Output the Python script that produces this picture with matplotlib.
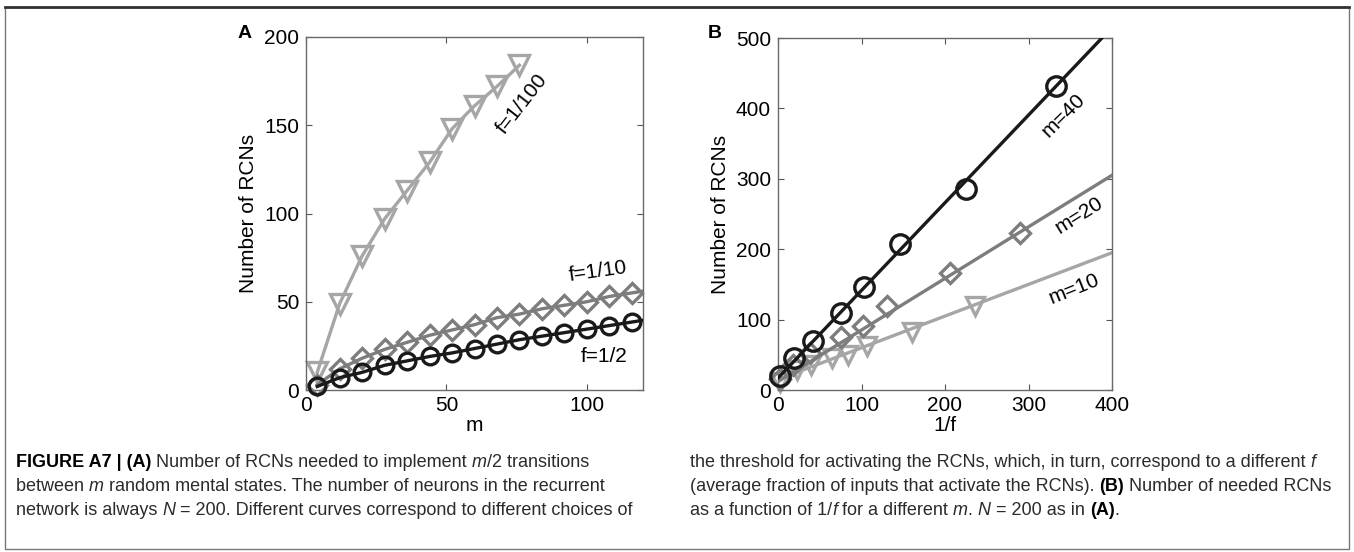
import matplotlib
matplotlib.use('Agg')
import matplotlib.pyplot as plt
from matplotlib.patches import Rectangle
from matplotlib.lines import Line2D

plt.rcParams['font.family'] = ['Liberation Sans', 'DejaVu Sans']

# ---- Panel A data: number of RCNs vs m ----
m_vals = [4, 12, 20, 28, 36, 44, 52, 60, 68, 76, 84, 92, 100, 108, 116]
rcn_f2 = [2, 7, 10, 14, 16.5, 19, 21, 23.5, 26, 28.5, 30.5, 32.5, 34.5, 36.5, 38.5]
rcn_f10 = [3, 12, 18, 23, 27, 31, 34, 37, 41, 43, 46, 48, 50, 53, 55]
m_vals_f100 = [4, 12, 20, 28, 36, 44, 52, 60, 68, 76]
rcn_f100 = [10, 49, 76, 97, 113, 129, 148, 161, 172, 184]
# fitted curve end values at the right edge (m = 120)
m_edge = 120
rcn_f2_edge = 39.5
rcn_f10_edge = 56

# ---- Panel B data: number of RCNs vs 1/f ----
invf_m40 = [2, 19, 42, 76, 103, 146, 225, 333]
rcn_m40 = [20, 45, 69, 110, 147, 207, 286, 432]
invf_m20 = [2, 18, 38, 75, 102, 130, 206, 290]
rcn_m20 = [15, 35, 52, 75, 91, 119, 166, 223]
invf_m10 = [2, 23, 40, 65, 84, 107, 161, 236]
rcn_m10 = [12, 28, 35, 45, 50, 63, 83, 120]
# linear fit lines (end points)
fit_x = [0, 400]
fit_m40 = [17, 515]
fit_m20 = [12, 305]
fit_m10 = [15, 195]

black = '#1a1a1a'
mid = '#7d7d7d'
light = '#a6a6a6'
lw = 2.4
mew = 2.4
fs = 15

fig = plt.figure(figsize=(13.54, 5.52), dpi=100)
W, H = 1354, 552


def style_axes(ax):
    ax.tick_params(direction='in', top=True, right=True, length=4,
                   width=0.8, color='#555555', labelsize=fs)
    ax.tick_params(axis='x', pad=4)
    ax.tick_params(axis='y', pad=5)
    for s in ax.spines.values():
        s.set_color('#6a6a6a')
        s.set_linewidth(1.0)


# Panel A
axA = fig.add_axes([306 / W, 1 - 390 / H, 337 / W, 353 / H])
axA.plot(m_vals_f100, rcn_f100, color=light, lw=lw, marker='v', ms=15,
         mfc='none', mec=light, mew=mew, clip_on=False, zorder=2)
axA.plot(m_vals + [m_edge], rcn_f10 + [rcn_f10_edge], color=mid, lw=lw, zorder=3)
axA.plot(m_vals, rcn_f10, ls='none', marker='D', ms=10, mfc='none', mec=mid,
         mew=mew, clip_on=False, zorder=3)
axA.plot(m_vals + [m_edge], rcn_f2 + [rcn_f2_edge], color=black, lw=lw, zorder=4)
axA.plot(m_vals, rcn_f2, ls='none', marker='o', ms=12, mfc='none', mec=black,
         mew=mew, clip_on=False, zorder=4)
axA.set_xlim(0, 120)
axA.set_ylim(0, 200)
axA.set_xticks([0, 50, 100])
axA.set_yticks([0, 50, 100, 150, 200])
axA.set_xlabel('m', fontsize=fs, labelpad=1)
axA.set_ylabel('Number of RCNs', fontsize=fs, labelpad=4)
style_axes(axA)
axA.text(77, 162, 'f=1/100', rotation=52, fontsize=fs, ha='center', va='center')
axA.text(104, 67, 'f=1/10', rotation=8, fontsize=fs, ha='center', va='center')
axA.text(106, 19, 'f=1/2', rotation=0, fontsize=fs, ha='center', va='center')

# Panel B
axB = fig.add_axes([778 / W, 1 - 390 / H, 334 / W, 352 / H])
axB.plot(fit_x, fit_m10, color=light, lw=lw, zorder=2)
axB.plot(invf_m10, rcn_m10, ls='none', marker='v', ms=13, mfc='none', mec=light,
         mew=mew, clip_on=False, zorder=2)
axB.plot(fit_x, fit_m20, color=mid, lw=lw, zorder=3)
axB.plot(invf_m20, rcn_m20, ls='none', marker='D', ms=10, mfc='none', mec=mid,
         mew=mew, clip_on=False, zorder=3)
axB.plot(fit_x, fit_m40, color=black, lw=lw, zorder=4)
axB.plot(invf_m40, rcn_m40, ls='none', marker='o', ms=14, mfc='none', mec=black,
         mew=mew, clip_on=False, zorder=4)
axB.set_xlim(0, 400)
axB.set_ylim(0, 500)
axB.set_xticks([0, 100, 200, 300, 400])
axB.set_yticks([0, 100, 200, 300, 400, 500])
axB.set_xlabel('1/f', fontsize=fs, labelpad=1)
axB.set_ylabel('Number of RCNs', fontsize=fs, labelpad=4)
style_axes(axB)
axB.text(342, 390, 'm=40', rotation=45, fontsize=fs, ha='center', va='center')
axB.text(360, 248, 'm=20', rotation=32, fontsize=fs, ha='center', va='center')
axB.text(354, 144, 'm=10', rotation=22, fontsize=fs, ha='center', va='center')

# panel letters
fig.text(245 / W, 1 - 33 / H, 'A', fontsize=14, fontweight='bold', ha='center', va='center')
fig.text(715 / W, 1 - 33 / H, 'B', fontsize=14, fontweight='bold', ha='center', va='center')

# outer frame
fig.add_artist(Rectangle((5 / W, 3 / H), 1344 / W, 542 / H, transform=fig.transFigure,
                         fill=False, edgecolor='#777777', lw=1.0))
fig.add_artist(Line2D([5 / W, 1349 / W], [1 - 7 / H, 1 - 7 / H], transform=fig.transFigure,
                      color='#333333', lw=2.0))

# caption with mixed styles
cap_font = ['Liberation Sans Narrow', 'Liberation Sans', 'DejaVu Sans']
cap_size = 13
left_lines = [
    [("FIGURE A7 | (A)", 'b'), (" Number of RCNs needed to implement ", 'n'), ("m", 'i'),
     ("/2 transitions", 'n')],
    [("between ", 'n'), ("m", 'i'),
     (" random mental states. The number of neurons in the recurrent", 'n')],
    [("network is always ", 'n'), ("N", 'i'),
     (" = 200. Different curves correspond to different choices of", 'n')],
]
right_lines = [
    [("the threshold for activating the RCNs, which, in turn, correspond to a different ", 'n'),
     ("f", 'i')],
    [("(average fraction of inputs that activate the RCNs). ", 'n'), ("(B)", 'b'),
     (" Number of needed RCNs", 'n')],
    [("as a function of 1/", 'n'), ("f", 'i'), (" for a different ", 'n'), ("m", 'i'),
     (". ", 'n'), ("N", 'i'), (" = 200 as in ", 'n'), ("(A)", 'b'), (".", 'n')],
]

renderer = fig.canvas.get_renderer()


def draw_runs(x0, y0, runs):
    x = x0
    for txt, st in runs:
        kw = dict(fontsize=cap_size, family=cap_font, color='#2b2b2b', ha='left', va='baseline')
        if st == 'b':
            kw['fontweight'] = 'bold'
            kw['color'] = 'black'
        elif st == 'i':
            kw['fontstyle'] = 'italic'
        t = fig.text(x / W, 1 - y0 / H, txt, **kw)
        bb = t.get_window_extent(renderer=renderer)
        x = bb.x1


line_y = [467, 491, 515]
for y, runs in zip(line_y, left_lines):
    draw_runs(16, y, runs)
for y, runs in zip(line_y, right_lines):
    draw_runs(690, y, runs)

fig.savefig('out.png', dpi=100)
